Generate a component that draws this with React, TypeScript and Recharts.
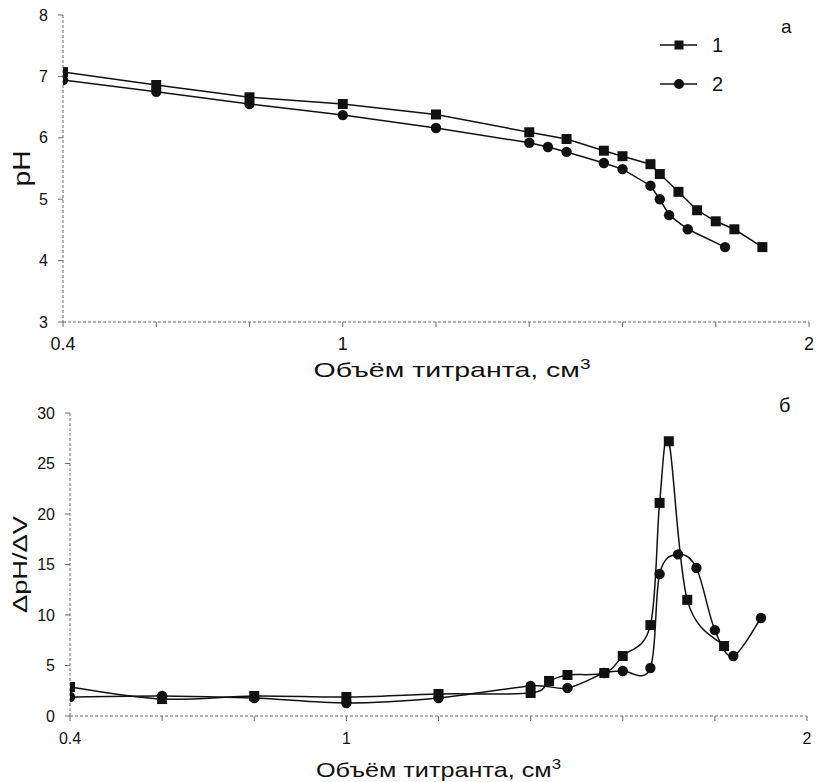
import React from 'react';
import { LineChart, Line, XAxis, YAxis, Customized } from 'recharts';

// ---- Data ----
const phX1 = [0.4, 0.6, 0.8, 1.0, 1.2, 1.4, 1.48, 1.56, 1.6, 1.66, 1.68, 1.72, 1.76, 1.8, 1.84, 1.9];
const phY1 = [7.07, 6.86, 6.66, 6.55, 6.38, 6.09, 5.98, 5.79, 5.7, 5.57, 5.41, 5.12, 4.82, 4.64, 4.51, 4.22];
const phX2 = [0.4, 0.6, 0.8, 1.0, 1.2, 1.4, 1.44, 1.48, 1.56, 1.6, 1.66, 1.68, 1.7, 1.74, 1.82];
const phY2 = [6.94, 6.75, 6.55, 6.37, 6.16, 5.92, 5.85, 5.77, 5.59, 5.49, 5.22, 5.0, 4.74, 4.51, 4.22];

const dX1 = [0.4, 0.6, 0.8, 1.0, 1.2, 1.4, 1.44, 1.48, 1.56, 1.6, 1.66, 1.68, 1.7, 1.74, 1.82];
const dY1 = [2.87, 1.68, 1.98, 1.88, 2.18, 2.28, 3.47, 4.06, 4.26, 5.94, 9.0, 21.1, 27.2, 11.5, 6.93];
const dX2 = [0.4, 0.6, 0.8, 1.0, 1.2, 1.4, 1.48, 1.56, 1.6, 1.66, 1.68, 1.72, 1.76, 1.8, 1.84, 1.9];
const dY2 = [1.88, 1.98, 1.78, 1.29, 1.78, 2.97, 2.77, 4.26, 4.46, 4.75, 14.06, 16.0, 14.65, 8.5, 5.94, 9.7];

const xTicks = [0.4, 0.6, 0.8, 1, 1.2, 1.4, 1.6, 1.8, 2];
const xTickLabels: Record<string, string> = { '0.4': '0.4', '1': '1', '2': '2' };
const phTicks = [3, 4, 5, 6, 7, 8];
const dTicks = [0, 5, 10, 15, 20, 25, 30];
const seriesNames = ['1', '2'];
const xTitle = 'Объём титранта, см';
const panelLetters = ['а', 'б'];

const zip = (xs: number[], ys: number[]) => xs.map((x, i) => ({ x, y: ys[i] }));
const phData1 = zip(phX1, phY1);
const phData2 = zip(phX2, phY2);
const dData1 = zip(dX1, dY1);
const dData2 = zip(dX2, dY2);

const FONT = '"Liberation Sans", Arial, sans-serif';
const INK = '#111';

// Excel-like smoothing (Catmull-Rom as cubic Bezier)
const excelSmooth: any = (context: any) => {
  let pts: number[][] = [];
  return {
    areaStart() {},
    areaEnd() {},
    lineStart() {
      pts = [];
    },
    point(x: number, y: number) {
      pts.push([+x, +y]);
    },
    lineEnd() {
      const n = pts.length;
      if (!n) return;
      context.moveTo(pts[0][0], pts[0][1]);
      for (let i = 0; i < n - 1; i++) {
        const p0 = pts[Math.max(i - 1, 0)];
        const p1 = pts[i];
        const p2 = pts[i + 1];
        const p3 = pts[Math.min(i + 2, n - 1)];
        context.bezierCurveTo(
          p1[0] + (p2[0] - p0[0]) / 6,
          p1[1] + (p2[1] - p0[1]) / 6,
          p2[0] - (p3[0] - p1[0]) / 6,
          p2[1] - (p3[1] - p1[1]) / 6,
          p2[0],
          p2[1]
        );
      }
    },
  };
};

const SquareDot = (props: any) => {
  const { cx, cy, index } = props;
  if (cx == null || cy == null) return <g key={`s${index}`} />;
  return <rect key={`s${index}`} x={cx - 5} y={cy - 5} width={10} height={10} fill={INK} />;
};
const CircleDot = (props: any) => {
  const { cx, cy, index } = props;
  if (cx == null || cy == null) return <g key={`c${index}`} />;
  return <circle key={`c${index}`} cx={cx} cy={cy} r={5.2} fill={INK} />;
};

const axisLine = { stroke: '#6a6a6a', strokeDasharray: '3 2', strokeWidth: 1 };
const tickLine = { stroke: '#6a6a6a', strokeWidth: 1 };

const XTitle = (dy: number, dx: number, len: number) => (props: any) => {
  const vb = props.viewBox || { x: 0, y: 0, width: 0, height: 0 };
  return (
    <text
      x={vb.x + vb.width / 2 + dx}
      y={vb.y + dy}
      textAnchor="middle"
      fontFamily={FONT}
      fontSize={21}
      fill={INK}
      textLength={len}
      lengthAdjust="spacingAndGlyphs"
    >
      {xTitle}
      <tspan fontSize={14} dy={-8}>3</tspan>
    </text>
  );
};

const YTitle = (text: string, cx: number, size: number, len: number) => (props: any) => {
  const vb = props.viewBox || { x: 0, y: 0, width: 0, height: 0 };
  const cy = vb.y + vb.height / 2;
  return (
    <text
      x={cx}
      y={cy}
      transform={`rotate(-90 ${cx} ${cy})`}
      textAnchor="middle"
      dominantBaseline="central"
      fontFamily={FONT}
      fontSize={size}
      fill={INK}
      textLength={len}
      lengthAdjust="spacingAndGlyphs"
    >
      {text}
    </text>
  );
};

const TopAnnotations = () => (
  <g fontFamily={FONT} fill={INK}>
    <line x1={660} x2={697} y1={45} y2={45} stroke={INK} strokeWidth={1.5} />
    <rect x={674.5} y={40.5} width={9} height={9} fill={INK} />
    <text x={712} y={52} fontSize={20}>{seriesNames[0]}</text>
    <line x1={660} x2={697} y1={84} y2={84} stroke={INK} strokeWidth={1.5} />
    <circle cx={679} cy={84} r={5} fill={INK} />
    <text x={712} y={91} fontSize={20}>{seriesNames[1]}</text>
    <text x={781} y={33} fontSize={19}>{panelLetters[0]}</text>
  </g>
);

const BottomAnnotations = () => (
  <g fontFamily={FONT} fill={INK}>
    <text x={779} y={24} fontSize={20}>{panelLetters[1]}</text>
  </g>
);

const fmtX = (v: number) => xTickLabels[String(Math.round(v * 10) / 10)] ?? '';

export default function App() {
  return (
    <div style={{ position: 'fixed', left: 0, top: 0, width: 817, height: 782, background: '#fff' }}>
      <div style={{ position: 'absolute', left: 0, top: 0 }}>
        <LineChart width={817} height={388} margin={{ top: 15, right: 8, left: 0, bottom: 26 }}>
          <XAxis
            type="number"
            dataKey="x"
            domain={[0.4, 2]}
            ticks={xTicks}
            tickFormatter={fmtX}
            allowDataOverflow
            height={40}
            axisLine={axisLine}
            tickLine={tickLine}
            tickSize={5}
            tickMargin={10}
            interval={0}
            tick={{ fill: INK, fontSize: 18, fontFamily: FONT }}
            label={{ content: XTitle(55, 16, 277) } as any}
          />
          <YAxis
            type="number"
            domain={[3, 8]}
            ticks={phTicks}
            width={63}
            axisLine={axisLine}
            tickLine={tickLine}
            tickSize={5}
            tickMargin={10}
            interval={0}
            tick={{ fill: INK, fontSize: 16, fontFamily: FONT }}
            label={{ content: YTitle('pH', 21, 24, 36) } as any}
          />
          <Line data={phData1} dataKey="y" type="linear" stroke={INK} strokeWidth={1.5} dot={SquareDot} isAnimationActive={false} />
          <Line data={phData2} dataKey="y" type="linear" stroke={INK} strokeWidth={1.5} dot={CircleDot} isAnimationActive={false} />
          <Customized component={TopAnnotations} />
        </LineChart>
      </div>
      <div style={{ position: 'absolute', left: 0, top: 388 }}>
        <LineChart width={817} height={394} margin={{ top: 25, right: 10, left: 0, bottom: 26 }}>
          <XAxis
            type="number"
            dataKey="x"
            domain={[0.4, 2]}
            ticks={xTicks}
            tickFormatter={fmtX}
            allowDataOverflow
            height={40}
            axisLine={axisLine}
            tickLine={tickLine}
            tickSize={5}
            tickMargin={12}
            interval={0}
            tick={{ fill: INK, fontSize: 16, fontFamily: FONT }}
            label={{ content: XTitle(61, 0, 245) } as any}
          />
          <YAxis
            type="number"
            domain={[0, 30]}
            ticks={dTicks}
            width={70}
            axisLine={axisLine}
            tickLine={tickLine}
            tickSize={5}
            tickMargin={10}
            interval={0}
            tick={{ fill: INK, fontSize: 16, fontFamily: FONT }}
            label={{ content: YTitle('ΔpH/ΔV', 19, 21, 97) } as any}
          />
          <Line data={dData1} dataKey="y" type={excelSmooth} stroke={INK} strokeWidth={1.5} dot={SquareDot} isAnimationActive={false} />
          <Line data={dData2} dataKey="y" type={excelSmooth} stroke={INK} strokeWidth={1.5} dot={CircleDot} isAnimationActive={false} />
          <Customized component={BottomAnnotations} />
        </LineChart>
      </div>
    </div>
  );
}
